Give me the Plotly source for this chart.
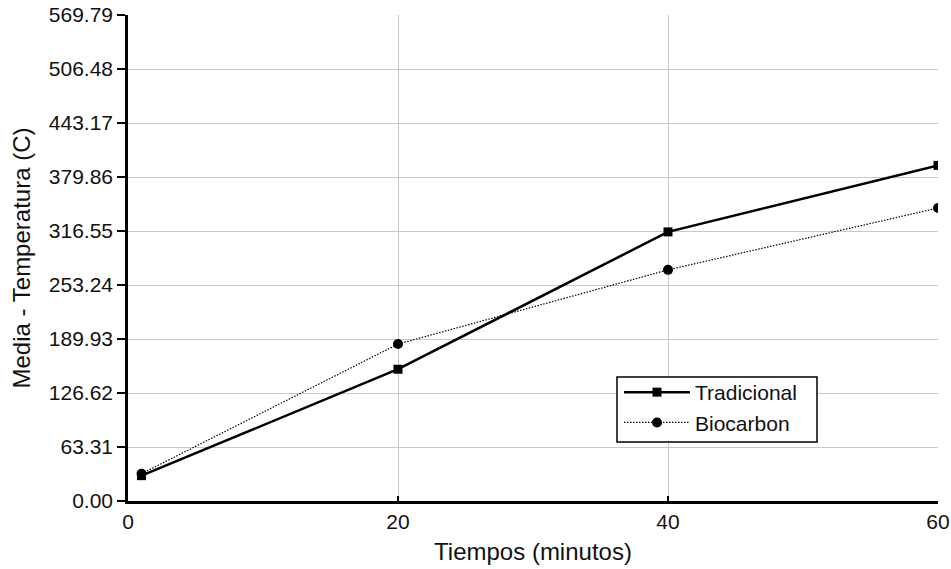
import plotly.graph_objects as go

tiempos = [1, 20, 40, 60]
tradicional = [29.7, 154.5, 315.5, 393.5]
biocarbon = [32.0, 184.0, 271.0, 343.5]

y_ticks = [0.00, 63.31, 126.62, 189.93, 253.24, 316.55, 379.86, 443.17, 506.48, 569.79]
y_tick_labels = ["0.00", "63.31", "126.62", "189.93", "253.24", "316.55", "379.86", "443.17", "506.48", "569.79"]
x_ticks = [0, 20, 40, 60]

font_family = "Liberation Sans, Arial, sans-serif"

fig = go.Figure()
fig.add_trace(go.Scatter(
    x=tiempos, y=tradicional, name="Tradicional", mode="lines+markers",
    line=dict(color="black", width=2.5),
    marker=dict(symbol="square", size=9, color="black"),
))
fig.add_trace(go.Scatter(
    x=tiempos, y=biocarbon, name="Biocarbon", mode="lines+markers",
    line=dict(color="black", width=1.2, dash="1.5px,1.5px"),
    marker=dict(symbol="circle", size=10, color="black"),
))

# legend frame (layout position of the box)
fig.add_shape(
    type="rect", xref="paper", yref="paper",
    x0=(617 - 128) / 810, x1=(817 - 128) / 810,
    y0=(501 - 442) / 486, y1=(501 - 377) / 486,
    line=dict(color="black", width=1.5), fillcolor="white", layer="above",
)

fig.update_layout(
    width=951, height=569,
    margin=dict(l=128, r=13, t=15, b=68, autoexpand=False),
    paper_bgcolor="white", plot_bgcolor="white",
    font=dict(family=font_family, size=21, color="#111111"),
    showlegend=True,
    legend=dict(
        x=(619 - 128) / 810, y=(501 - 372) / 486, xanchor="left", yanchor="top",
        bgcolor="rgba(0,0,0,0)", borderwidth=0,
        font=dict(size=21, family=font_family, color="#111111"),
        itemwidth=66,
    ),
    xaxis=dict(
        range=[0, 60], tickvals=x_ticks, ticktext=[str(v) for v in x_ticks],
        showgrid=True, gridcolor="#c8c8c8", gridwidth=1,
        showline=True, linecolor="black", linewidth=2.5,
        ticks="inside", ticklen=5, tickwidth=2, tickcolor="black",
        zeroline=False, tickfont=dict(size=21), automargin=False,
        title=dict(text="Tiempos (minutos)", font=dict(size=24), standoff=12),
    ),
    yaxis=dict(
        range=[0, 569.79], tickvals=y_ticks, ticktext=y_tick_labels,
        showgrid=True, gridcolor="#c8c8c8", gridwidth=1,
        showline=True, linecolor="black", linewidth=2.5,
        ticks="outside", ticklen=8, tickwidth=2, tickcolor="black",
        zeroline=False, tickfont=dict(size=21), automargin=False,
        title=dict(text="Media - Temperatura (C)", font=dict(size=24), standoff=12),
    ),
)

fig.write_html(
    "out.html",
    config={"displayModeBar": False},
    post_script="document.body.style.margin='0';document.body.style.padding='0';document.body.style.overflow='hidden';",
)
